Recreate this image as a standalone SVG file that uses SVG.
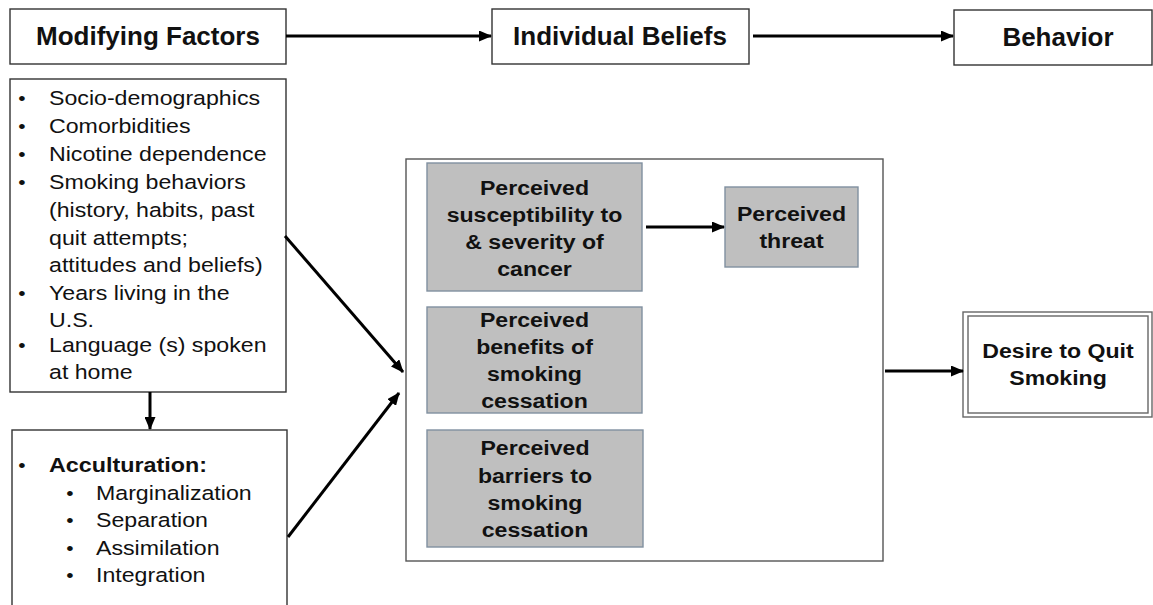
<svg xmlns="http://www.w3.org/2000/svg" width="1153" height="605" viewBox="0 0 1153 605">
<style>
.box{fill:#fff;stroke:#333;stroke-width:1.4}
.big{fill:#fff;stroke:#555;stroke-width:1.4}
.gray{fill:#bfbfbf;stroke:#8090a0;stroke-width:1.4}
.dbl{fill:none;stroke:#666;stroke-width:1.4}
.title{font-family:"Liberation Sans",Arial,sans-serif;font-weight:bold;font-size:25px;fill:#111}
.lbl{font-family:"Liberation Sans",Arial,sans-serif;font-weight:bold;font-size:21px;fill:#111}
.lst{font-family:"Liberation Sans",Arial,sans-serif;font-size:20.5px;fill:#111}
.bul{font-family:"Liberation Sans",Arial,sans-serif;font-size:19px;fill:#111}
.con{stroke:#000;stroke-width:3;fill:none;marker-end:url(#ah)}
</style>
<defs>
<marker id="ah" markerUnits="userSpaceOnUse" markerWidth="13" markerHeight="11" refX="12" refY="5.5" orient="auto">
<path d="M0,0 L13,5.5 L0,11 z" fill="#000"/>
</marker>
</defs>
<rect width="1153" height="605" fill="#fff"/>

<g id="modifying-factors">
<rect class="box" x="10" y="9" width="276" height="55"/>
<text class="title" x="0" y="45" text-anchor="middle" transform="translate(148 0) scale(1.04 1)">Modifying Factors</text>
</g>
<g id="individual-beliefs">
<rect class="box" x="492" y="9" width="257" height="55"/>
<text class="title" x="0" y="45" text-anchor="middle" transform="translate(620 0) scale(1.04 1)">Individual Beliefs</text>
</g>
<g id="behavior">
<rect class="box" x="954" y="10" width="198" height="55"/>
<text class="title" x="0" y="46" text-anchor="middle" transform="translate(1058 0) scale(1.04 1)">Behavior</text>
</g>

<g id="factors-list">
<rect class="box" x="10" y="79" width="276" height="313"/>
<g class="bul" text-anchor="middle" transform="translate(22 0) scale(1.1 1)">
<text x="0" y="105">•</text><text x="0" y="133">•</text><text x="0" y="161">•</text><text x="0" y="189">•</text><text x="0" y="300">•</text><text x="0" y="352">•</text>
</g>
<g class="lst" transform="translate(49 0) scale(1.13 1)">
<text x="0" y="105">Socio-demographics</text>
<text x="0" y="133">Comorbidities</text>
<text x="0" y="161">Nicotine dependence</text>
<text x="0" y="189">Smoking behaviors</text>
<text x="0" y="217">(history, habits, past</text>
<text x="0" y="245">quit attempts;</text>
<text x="0" y="272">attitudes and beliefs)</text>
<text x="0" y="300">Years living in the</text>
<text x="0" y="327">U.S.</text>
<text x="0" y="352">Language (s) spoken</text>
<text x="0" y="379">at home</text>
</g>
</g>

<g id="acculturation">
<rect class="box" x="12" y="430" width="275" height="200"/>
<g class="bul" text-anchor="middle" transform="translate(22 0) scale(1.1 1)">
<text x="0" y="472">•</text>
</g>
<g class="bul" text-anchor="middle" transform="translate(70 0) scale(1.1 1)">
<text x="0" y="500">•</text><text x="0" y="527">•</text><text x="0" y="555">•</text><text x="0" y="582">•</text>
</g>
<text class="lbl" x="0" y="472" transform="translate(49 0) scale(1.11 1)">Acculturation:</text>
<g class="lst" transform="translate(96 0) scale(1.13 1)">
<text x="0" y="500">Marginalization</text>
<text x="0" y="527">Separation</text>
<text x="0" y="555">Assimilation</text>
<text x="0" y="582">Integration</text>
</g>
</g>

<g id="beliefs-frame">
<rect class="big" x="406" y="159" width="477" height="402"/>
</g>

<g id="susceptibility">
<rect class="gray" x="427" y="163" width="215" height="128"/>
<g class="lbl" text-anchor="middle" transform="translate(534.5 0) scale(1.1 1)">
<text x="0" y="195">Perceived</text>
<text x="0" y="222">susceptibility to</text>
<text x="0" y="249">&amp; severity of</text>
<text x="0" y="276">cancer</text>
</g>
</g>

<g id="benefits">
<rect class="gray" x="427" y="307" width="215" height="106"/>
<g class="lbl" text-anchor="middle" transform="translate(534.5 0) scale(1.1 1)">
<text x="0" y="327">Perceived</text>
<text x="0" y="354">benefits of</text>
<text x="0" y="381">smoking</text>
<text x="0" y="408">cessation</text>
</g>
</g>

<g id="barriers">
<rect class="gray" x="427" y="430" width="216" height="117"/>
<g class="lbl" text-anchor="middle" transform="translate(535 0) scale(1.1 1)">
<text x="0" y="455">Perceived</text>
<text x="0" y="483">barriers to</text>
<text x="0" y="510">smoking</text>
<text x="0" y="537">cessation</text>
</g>
</g>

<g id="threat">
<rect class="gray" x="725" y="187" width="133" height="80"/>
<g class="lbl" text-anchor="middle" transform="translate(791.5 0) scale(1.1 1)">
<text x="0" y="221">Perceived</text>
<text x="0" y="248">threat</text>
</g>
</g>

<g id="desire">
<rect class="dbl" x="963" y="312" width="189" height="105"/>
<rect class="dbl" x="968" y="316" width="180" height="97"/>
<g class="lbl" text-anchor="middle" transform="translate(1058 0) scale(1.1 1)">
<text x="0" y="358">Desire to Quit</text>
<text x="0" y="385">Smoking</text>
</g>
</g>

<g id="connectors">
<line class="con" x1="286" y1="36" x2="491" y2="36"/>
<line class="con" x1="753" y1="36" x2="953" y2="36"/>
<line class="con" x1="150" y1="392" x2="150" y2="429"/>
<line class="con" x1="285" y1="236" x2="403" y2="372"/>
<line class="con" x1="288" y1="537" x2="399" y2="393"/>
<line class="con" x1="646" y1="227" x2="724" y2="227"/>
<line class="con" x1="885" y1="371" x2="963" y2="371"/>
</g>
</svg>
